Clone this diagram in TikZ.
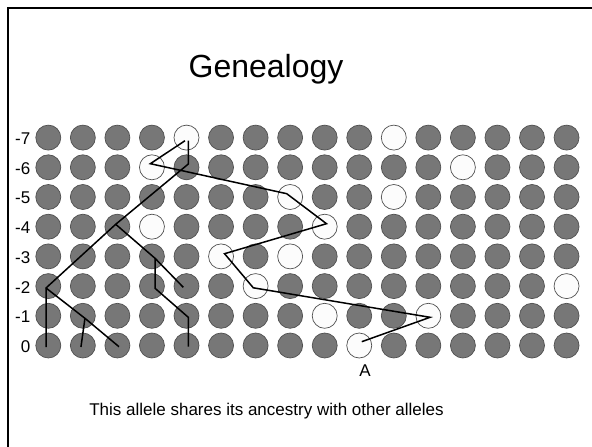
\documentclass[tikz,border=0pt]{standalone}
\usepackage{fontspec}
\setmainfont{Liberation Sans}
\usetikzlibrary{calc}
\definecolor{darkfill}{HTML}{777777}
\definecolor{rimcol}{HTML}{505050}
\definecolor{lightfill}{HTML}{FCFCFC}
\tikzset{
  dcirc/.style={circle, minimum size=25pt, inner sep=0pt, fill=darkfill, draw=rimcol, line width=0.7pt},
  wcirc/.style={circle, minimum size=25pt, inner sep=0pt, fill=lightfill, draw=rimcol, line width=0.7pt},
  gl/.style={line width=1.5pt, line join=miter},
  rowlab/.style={font=\fontsize{17}{20}\selectfont, anchor=east, inner sep=0pt},
  framel/.style={line width=2.6pt, line join=miter}
}
\foreach \a/\b in {4/7,10/7,3/6,12/6,7/5,10/5,3/4,8/4,5/3,7/3,6/2,15/2,8/1,11/1,9/0}{%
  \expandafter\gdef\csname w-\a-\b\endcsname{}}
\begin{document}
\begin{tikzpicture}[x=1pt,y=-1pt]
\useasboundingbox (0,0) rectangle (592,447);
% frame
\draw[framel] (7.8,447) -- (7.8,7.8) -- (592,7.8);
% title
\node[font=\fontsize{32}{36}\selectfont, anchor=base, inner sep=0pt] (title) at (266,77) {Genealogy};
% circles
\foreach \c in {0,...,15}{
  \foreach \r in {0,...,7}{
    \ifcsname w-\c-\r\endcsname
      \node[wcirc] (n-\c-\r) at ({48.3+34.55*\c},{345.5-29.7*\r}) {};
    \else
      \node[dcirc] (n-\c-\r) at ({48.3+34.55*\c},{345.5-29.7*\r}) {};
    \fi
  }
}
% row labels
\foreach \r/\t in {0/0,1/-1,2/-2,3/-3,4/-4,5/-5,6/-6,7/-7}{
  \node[rowlab] (lab-\r) at ({30.5},{346.5-29.7*\r}) {\t};
}
% vertices of the main lineage
\coordinate (p0) at ($(n-9-0)+(2.5,-3.8)$);
\coordinate (p1) at ($(n-11-1)+(1.7,1.5)$);
\coordinate (p2) at ($(n-6-2)+(-2.3,1.7)$);
\coordinate (p3) at ($(n-5-3)+(3.5,-2.7)$);
\coordinate (p4) at ($(n-8-4)+(1.8,-3)$);
\coordinate (p5) at ($(n-7-5)+(-3.4,-3.3)$);
\coordinate (p6) at ($(n-3-6)+(-1.6,-3.6)$);
\coordinate (p7) at ($(n-4-7)+(-1.5,3.1)$);
% vertices of the second tree
\coordinate (q7) at ($(n-4-7)+(1.8,3.1)$);
\coordinate (q6) at ($(n-4-6)+(1.8,-3.3)$);
\coordinate (q4) at ($(n-2-4)+(-1.7,-2.4)$);
\coordinate (q2) at ($(n-0-2)+(-2.3,1.9)$);
\coordinate (q0a) at ($(n-0-0)+(-2.3,1.5)$);
\coordinate (q1b) at ($(n-1-1)+(2.1,2.5)$);
\coordinate (q0b) at ($(n-1-0)+(-1.9,1.5)$);
\coordinate (q0c) at ($(n-2-0)+(1.6,1.2)$);
\coordinate (q3) at ($(n-3-3)+(3.1,1.9)$);
\coordinate (q2d) at ($(n-4-2)+(-3.2,1.2)$);
\coordinate (q2c) at ($(n-3-2)+(3.1,2.2)$);
\coordinate (q1) at ($(n-4-1)+(1.8,1.5)$);
\coordinate (q0) at ($(n-4-0)+(1.8,1.2)$);
% connectors
\draw[gl] (p0) -- (p1) -- (p2) -- (p3) -- (p4) -- (p5) -- (p6) -- (p7);
\draw[gl] (q7) -- (q6) -- (q4) -- (q2) -- (q0a);
\draw[gl] (q2) -- (q1b) -- (q0c);
\draw[gl] (q1b) -- (q0b);
\draw[gl] (q4) -- (q3) -- (q2d);
\draw[gl] (q3) -- (q2c) -- (q1) -- (q0);
% labels
\node[font=\fontsize{17}{20}\selectfont, anchor=base, inner sep=0pt] (alab) at (365,376) {A};
\node[font=\fontsize{17}{20}\selectfont, anchor=base, inner sep=0pt] (caption) at (266.5,415) {This allele shares its ancestry with other alleles};
\end{tikzpicture}
\end{document}
